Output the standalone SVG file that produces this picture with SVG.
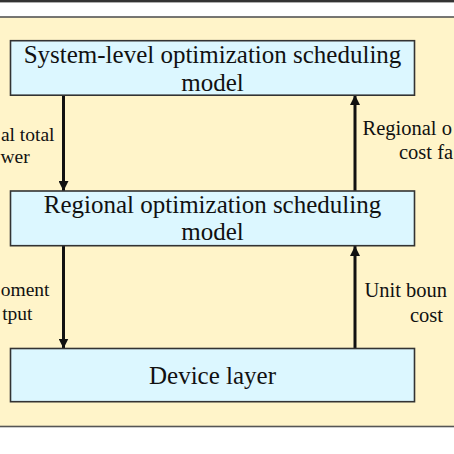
<svg xmlns="http://www.w3.org/2000/svg" width="454" height="454" viewBox="0 0 454 454">
  <defs>
    <style>
      .box { fill: #dcf7ff; stroke: #333; stroke-width: 1.6; }
      .t { font-family: "Liberation Serif", "Times New Roman", serif; font-size: 25px; fill: #111; text-anchor: middle; }
      .lbl { font-family: "Liberation Serif", "Times New Roman", serif; font-size: 19.5px; fill: #111; }
      .lblr { font-family: "Liberation Serif", "Times New Roman", serif; font-size: 20.5px; fill: #111; }
      .conn { stroke: #111; stroke-width: 3; fill: none; }
    </style>
    <marker id="ah" viewBox="0 0 10 10" refX="10" refY="5" markerWidth="10" markerHeight="10" markerUnits="userSpaceOnUse" orient="auto">
      <path d="M0,0 L10,5 L0,10 z" fill="#111"/>
    </marker>
  </defs>
  <rect x="0" y="0" width="454" height="454" fill="#fff"/>
  <rect x="0" y="0" width="454" height="2.4" fill="#333"/>
  <rect x="-2" y="17" width="458" height="409.5" fill="#fff4c9" stroke="#555" stroke-width="1.6"/>

  <g id="connectors">
    <line class="conn" x1="63.5" y1="95" x2="63.5" y2="191" marker-end="url(#ah)"/>
    <line class="conn" x1="355" y1="191" x2="355" y2="95" marker-end="url(#ah)"/>
    <line class="conn" x1="63.5" y1="246" x2="63.5" y2="348.5" marker-end="url(#ah)"/>
    <line class="conn" x1="355" y1="348.5" x2="355" y2="246" marker-end="url(#ah)"/>
    <text class="lbl" x="54.5" y="140.5" text-anchor="end">al total</text>
    <text class="lbl" x="0.5" y="163">wer</text>
    <text class="lblr" x="362.5" y="134.5">Regional o</text>
    <text class="lblr" x="399" y="158.5">cost fa</text>
    <text class="lbl" x="49.5" y="296" text-anchor="end">oment</text>
    <text class="lbl" x="32.5" y="319.5" text-anchor="end">tput</text>
    <text class="lblr" x="364.5" y="297">Unit boun</text>
    <text class="lblr" x="410" y="321.5">cost</text>
  </g>

  <g id="system-model">
    <rect class="box" x="10.5" y="40.7" width="404" height="54.5"/>
    <text class="t" x="212.5" y="63">System-level optimization scheduling</text>
    <text class="t" x="212.5" y="90.5">model</text>
  </g>
  <g id="regional-model">
    <rect class="box" x="10.5" y="191" width="404" height="54.7"/>
    <text class="t" x="212.5" y="212.7">Regional optimization scheduling</text>
    <text class="t" x="212.5" y="240">model</text>
  </g>
  <g id="device-layer">
    <rect class="box" x="10.5" y="348.5" width="404" height="53.2"/>
    <text class="t" x="212.5" y="384">Device layer</text>
  </g>
</svg>
